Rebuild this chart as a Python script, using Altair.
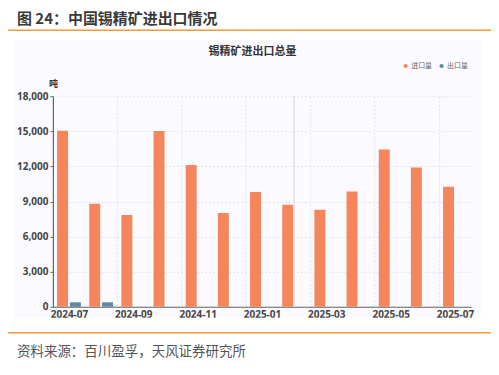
import altair as alt
import pandas as pd

# ---- data ----
months = ["2024-07", "2024-08", "2024-09", "2024-10", "2024-11", "2024-12",
          "2025-01", "2025-02", "2025-03", "2025-04", "2025-05", "2025-06", "2025-07"]
imports = [15050, 8800, 7850, 15030, 12110, 8020, 9810, 8730, 8300, 9860, 13440, 11910, 10260]
exports = [380, 380, 0, 0, 0, 0, 0, 0, 0, 0, 0, 0, 0]
series_names = ["进口量", "出口量"]
series_colors = ["#F5855B", "#5E889E"]
tick_months = ["2024-07", "2024-09", "2024-11", "2025-01", "2025-03", "2025-05", "2025-07"]
y_ticks = [0, 3000, 6000, 9000, 12000, 15000, 18000]
highlight_month = ["2025-02"]

fig_title = "图 24：中国锡精矿进出口情况"
chart_title = "锡精矿进出口总量"
unit_label = "吨"
source_text = "资料来源：百川盈孚，天风证券研究所"

FONT = "Noto Sans CJK SC"
W, H = 419, 211
HALF_STEP = W / 13 / 2

rows = []
for m, imp, exp in zip(months, imports, exports):
    rows.append({"month": m, "series": series_names[0], "value": imp})
    rows.append({"month": m, "series": series_names[1], "value": exp})
df = pd.DataFrame(rows)
one = pd.DataFrame({"a": [0]})

# white masks outside the light panel (svg background is the panel tint)
def mask(x1, x2, y1, y2):
    return alt.Chart(one).mark_rect(color="white").encode(
        x=alt.value(x1), x2=alt.value(x2), y=alt.value(y1), y2=alt.value(y2))

masks = [
    mask(-50, 445, -95, -56),
    mask(-50, 445, 222, 280),
    mask(-50, -39, -95, 280),
    mask(429, 445, -95, 280),
]

bars = alt.Chart(df).mark_bar().encode(
    x=alt.X("month:N", sort=months,
            scale=alt.Scale(domain=months, paddingInner=0.26, paddingOuter=0.13),
            axis=alt.Axis(title=None, values=tick_months, bandPosition=0.5,
                          tickOffset=-HALF_STEP, labelOffset=HALF_STEP,
                          labelAngle=0, labelFont="Noto Sans", labelFontSize=10,
                          labelFontWeight="bold", labelColor="#444", labelPadding=3,
                          ticks=False, domainColor="#666", domainWidth=1.2,
                          grid=True, gridDash=[2, 2], gridColor="#e2e2ee")),
    xOffset=alt.XOffset("series:N", sort=series_names,
                        scale=alt.Scale(domain=series_names, paddingInner=0.15)),
    y=alt.Y("value:Q", scale=alt.Scale(domain=[0, 18000], nice=False),
            axis=alt.Axis(title=unit_label, titleAngle=0, titleX=0, titleY=-13,
                          titleAlign="center", titleBaseline="middle", titleFont=FONT,
                          titleFontSize=9, titleFontWeight="bold", titleColor="#333",
                          values=y_ticks, format=",d", labelFont="Noto Sans",
                          labelFontSize=10, labelFontWeight="bold", labelColor="#444",
                          labelPadding=2, tickSize=3, tickColor="#666",
                          domainColor="#666", domainWidth=1.2,
                          grid=True, gridDash=[2, 2], gridColor="#e2e2ee")),
    color=alt.Color("series:N", sort=series_names,
                    scale=alt.Scale(domain=series_names, range=series_colors),
                    legend=alt.Legend(title=None, orient="none", legendX=350, legendY=-34,
                                      direction="horizontal", symbolType="circle",
                                      symbolSize=18, labelFont=FONT, labelFontSize=7,
                                      labelColor="#666", labelOffset=2, columnPadding=6)),
)

cross = alt.Chart(pd.DataFrame({"month": highlight_month})).mark_rule(
    color="#d4d3e3", strokeWidth=1).encode(x=alt.X("month:N", sort=months))

def txt(text, x, y, size, color="#333", weight="normal", align="left"):
    return alt.Chart(one).mark_text(font=FONT, fontSize=size, color=color,
                                    fontWeight=weight, align=align, baseline="middle").encode(
        x=alt.value(x), y=alt.value(y), text=alt.value(text))

def hline(x1, x2, y, color="#F39A3B", w=1.5):
    return alt.Chart(one).mark_rule(color=color, strokeWidth=w).encode(
        x=alt.value(x1), x2=alt.value(x2), y=alt.value(y))

decor = [
    txt(fig_title, -36, -77, 15, color="#3a3a3a", weight="bold"),
    hline(-47, 440, -66),
    txt(chart_title, 200, -44, 11, color="#333", weight="bold", align="center"),
    hline(-47, 440, 237),
    txt(source_text, -36, 256, 13.5, color="#555"),
]

chart = alt.layer(*masks, bars, cross, *decor).properties(
    width=W, height=H,
    autosize=alt.AutoSizeParams(type="none"),
    padding={"left": 45, "top": 88, "right": 20, "bottom": 60},
    background="#fbfafe",
).configure_view(stroke=None)

chart.save("out.html", embed_options={"renderer": "svg", "actions": False})
